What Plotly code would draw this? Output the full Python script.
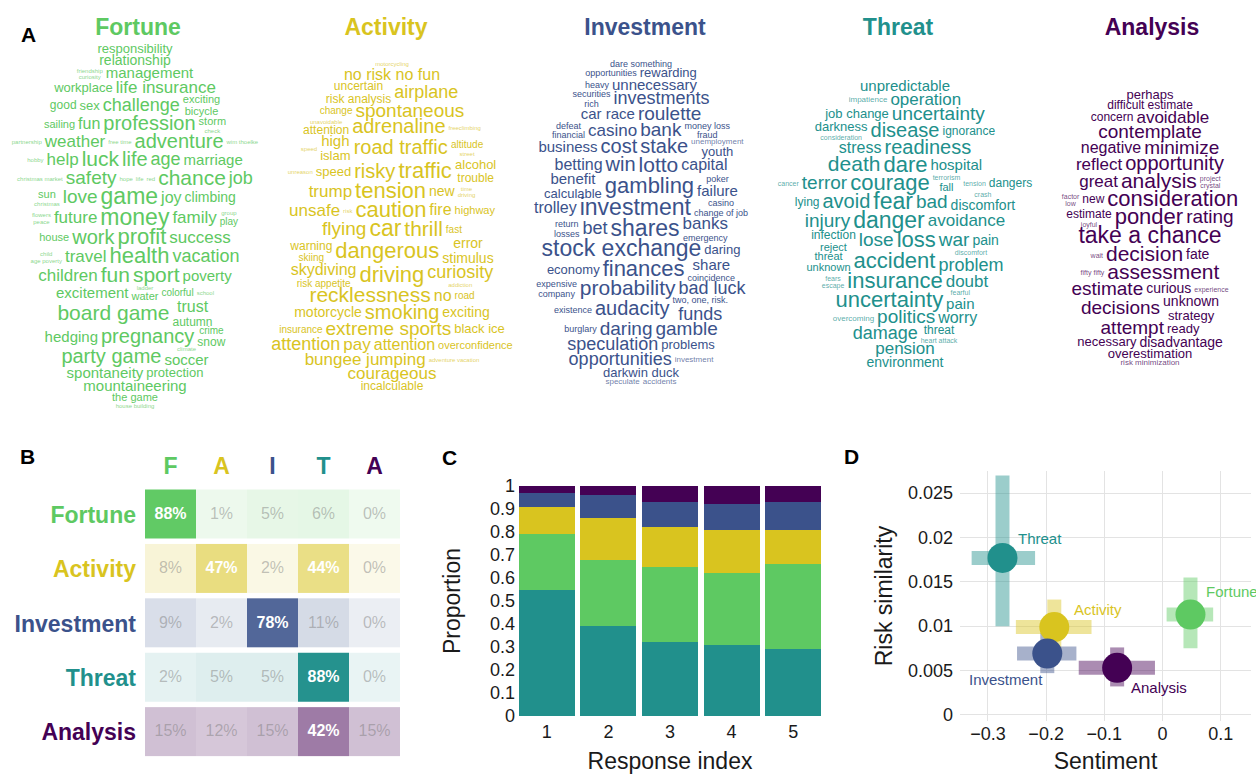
import plotly.graph_objects as go

W, H = 1256, 774
FONT = "Liberation Sans, Arial, sans-serif"

# ---------------- data ----------------
CATS = ["Fortune", "Activity", "Investment", "Threat", "Analysis"]
INITIALS = ["F", "A", "I", "T", "A"]
COLORS = ["#5EC962", "#D9C41F", "#3B528B", "#21908C", "#440154"]

# Panel A: word clouds. Each row lists (word, weight); a nested list is a small vertical stack.
FORTUNE_WORDS = [
    [("responsibility", 13)],
    [("relationship", 14)],
    [[("friendship", 6), ("curiosity", 6)], ("management", 15)],
    [("workplace", 13), ("life insurance", 17)],
    [("good", 12), ("sex", 13), ("challenge", 18), [("exciting", 11), ("bicycle", 11)]],
    [("sailing", 11), ("fun", 16), ("profession", 20), [("storm", 11), ("check", 6)]],
    [("partnership", 6), ("weather", 17), ("free time", 6), ("adventure", 20), ("wim thoelke", 6)],
    [("hobby", 6), ("help", 17), ("luck", 21), ("life", 20), ("age", 18), ("marriage", 15)],
    [("christmas market", 6), ("safety", 19), ("hope", 6), ("life", 6), ("red", 6), ("chance", 21), ("job", 18)],
    [[("sun", 11), ("christmas", 6)], ("love", 19), ("game", 23), ("joy", 16), ("climbing", 14)],
    [[("flowers", 6), ("peace", 6)], ("future", 17), ("money", 23), ("family", 17), [("group", 6), ("play", 10)]],
    [("house", 11), ("work", 20), ("profit", 22), ("success", 17)],
    [[("child", 6), ("age poverty", 6)], ("travel", 17), ("health", 22), ("vacation", 18)],
    [("children", 17), ("fun", 21), ("sport", 21), ("poverty", 15)],
    [("excitement", 15), [("ladder", 6), ("water", 11)], ("colorful", 10), ("school", 6)],
    [("board game", 21), [("trust", 16), ("autumn", 12)]],
    [("hedging", 15), ("pregnancy", 20), [("crime", 10), ("snow", 12)]],
    [("party game", 20), [("climate", 6), ("soccer", 15)]],
    [("spontaneity", 15), ("protection", 13)],
    [("mountaineering", 15)],
    [("the game", 11)],
    [("house building", 6)],
]
ACTIVITY_WORDS = [
    [[("motorcycling", 6), ("no risk no fun", 16)]],
    [[("uncertain", 12), ("risk analysis", 12)], ("airplane", 18)],
    [("change", 10), ("spontaneous", 19)],
    [[("unavoidable", 6), ("attention", 12)], ("adrenaline", 20), ("freeclimbing", 6)],
    [("speed", 6), [("high", 15), ("islam", 13)], ("road traffic", 20), [("altitude", 10), ("street", 6)]],
    [("unreason", 6), ("speed", 13), ("risky", 20), ("traffic", 22), [("alcohol", 13), ("trouble", 12)]],
    [("trump", 17), ("tension", 22), ("new", 14), [("time", 6), ("driving", 6)]],
    [("unsafe", 17), ("risk", 6), ("caution", 22), ("fire", 16), ("highway", 11)],
    [("flying", 19), ("car", 23), ("thrill", 21), ("fast", 10)],
    [[("warning", 12), ("skiing", 10)], ("dangerous", 22), [("error", 14), ("stimulus", 14)]],
    [[("skydiving", 16), ("risk appetite", 10)], ("driving", 22), [("curiosity", 18), ("addiction", 6)]],
    [("recklessness", 21), ("no", 16), ("road", 10)],
    [("motorcycle", 14), ("smoking", 20), ("exciting", 14)],
    [("insurance", 10), ("extreme sports", 19), ("black ice", 13)],
    [("attention", 18), ("pay", 17), ("attention", 16), ("overconfidence", 11)],
    [("bungee jumping", 17), ("adventure vacation", 6)],
    [("courageous", 17)],
    [("incalculable", 12)],
]
INVESTMENT_WORDS = [
    [("dare something", 9)],
    [("opportunities", 9), ("rewarding", 13)],
    [("heavy", 9), ("unnecessary", 15)],
    [[("securities", 9), ("rich", 9)], ("investments", 18)],
    [("car race", 15), ("roulette", 19)],
    [[("defeat", 9), ("financial", 9)], ("casino", 17), ("bank", 19), [("money loss", 9), ("fraud", 9)]],
    [("business", 15), ("cost", 20), ("stake", 20), [("unemployment", 8), ("youth", 13)]],
    [("betting", 16), ("win", 20), ("lotto", 21), ("capital", 16)],
    [[("benefit", 15), ("calculable", 13)], ("gambling", 22), [("poker", 9), ("failure", 15)]],
    [("trolley", 16), ("investment", 23), [("casino", 9), ("change of job", 9)]],
    [[("return", 9), ("losses", 9)], ("bet", 18), ("shares", 23), [("banks", 17), ("emergency", 9)]],
    [("stock exchange", 23), ("daring", 13)],
    [("economy", 13), ("finances", 22), [("share", 15), ("coincidence", 9)]],
    [[("expensive", 9), ("company", 9)], ("probability", 21), ("bad luck", 18)],
    [("existence", 9), ("audacity", 20), [("two, one, risk.", 9), ("funds", 18)]],
    [("burglary", 9), ("daring", 19), ("gamble", 19)],
    [("speculation", 18), ("problems", 13)],
    [("opportunities", 18), ("investment", 8)],
    [("darkwin duck", 13)],
    [("speculate", 8), ("accidents", 8)],
]
THREAT_WORDS = [
    [("unpredictable", 15)],
    [("impatience", 8), ("operation", 17)],
    [("job change", 13), ("uncertainty", 19)],
    [[("darkness", 13), ("consideration", 7)], ("disease", 20), ("ignorance", 12)],
    [("stress", 16), ("readiness", 20)],
    [("death", 21), ("dare", 22), ("hospital", 15)],
    [("cancer", 7), ("terror", 19), ("courage", 22), [("terrorism", 7), ("fall", 11)], ("tension", 7), ("dangers", 12)],
    [("lying", 12), ("avoid", 20), ("fear", 23), ("bad", 19), [("crash", 7), ("discomfort", 14)]],
    [("injury", 19), ("danger", 23), ("avoidance", 17)],
    [[("infection", 12), ("reject", 11)], ("lose", 19), ("loss", 22), ("war", 19), ("pain", 14)],
    [[("threat", 11), ("unknown", 11)], ("accident", 22), [("discomfort", 7), ("problem", 18)]],
    [[("fears", 7), ("escape", 7)], ("insurance", 22), ("doubt", 17)],
    [("uncertainty", 22), [("fearful", 7), ("pain", 15)]],
    [("overcoming", 8), ("politics", 19), ("worry", 16)],
    [("damage", 18), [("threat", 12), ("heart attack", 7)]],
    [("pension", 17)],
    [("environment", 14)],
]
ANALYSIS_WORDS = [
    [("perhaps", 13)],
    [("difficult", 12), ("estimate", 12)],
    [("concern", 12), ("avoidable", 17)],
    [("contemplate", 19)],
    [("negative", 16), ("minimize", 19)],
    [("reflect", 17), ("opportunity", 20)],
    [("great", 17), ("analysis", 21), [("project", 7), ("crystal", 7)]],
    [[("factor", 7), ("low", 7)], ("new", 12), ("consideration", 22)],
    [[("estimate", 12), ("joyful", 7)], ("ponder", 22), ("rating", 19)],
    [("take a chance", 23)],
    [("wait", 7), ("decision", 21), ("fate", 14)],
    [("fifty fifty", 7), ("assessment", 21)],
    [("estimate", 19), ("curious", 14), ("experience", 7)],
    [("decisions", 19), [("unknown", 14), ("strategy", 13)]],
    [("attempt", 19), ("ready", 13)],
    [("necessary", 13), ("disadvantage", 14)],
    [("overestimation", 13)],
    [("risk minimization", 8)],
]
CLOUDS = [FORTUNE_WORDS, ACTIVITY_WORDS, INVESTMENT_WORDS, THREAT_WORDS, ANALYSIS_WORDS]

# Panel B: classification percentages (rows: category, cols: assigned category)
CONF = [
    [88, 1, 5, 6, 0],
    [8, 47, 2, 44, 0],
    [9, 2, 78, 11, 0],
    [2, 5, 5, 88, 0],
    [15, 12, 15, 42, 15],
]

# Panel C: proportions per response index
RESP_IDX = [1, 2, 3, 4, 5]
PROP_THREAT = [0.55, 0.39, 0.32, 0.31, 0.29]
PROP_FORTUNE = [0.24, 0.29, 0.33, 0.31, 0.37]
PROP_ACTIVITY = [0.12, 0.18, 0.17, 0.19, 0.15]
PROP_INVESTMENT = [0.06, 0.10, 0.11, 0.11, 0.12]
PROP_ANALYSIS = [0.03, 0.04, 0.07, 0.08, 0.07]

# Panel D: sentiment vs risk similarity (order of CATS)
SENT = [0.048, -0.186, -0.198, -0.275, -0.078]
SENT_LO = [0.007, -0.252, -0.250, -0.328, -0.144]
SENT_HI = [0.087, -0.122, -0.148, -0.219, -0.013]
RISK = [0.0113, 0.0099, 0.0069, 0.0177, 0.0053]
RISK_LO = [0.0075, 0.0068, 0.0047, 0.0100, 0.0032]
RISK_HI = [0.0155, 0.0130, 0.0092, 0.0270, 0.0076]

# ---------------- helpers ----------------
def fx(p):
    return p / W

def fy(p):
    return 1 - p / H

def hex2rgb(h):
    h = h.lstrip("#")
    return tuple(int(h[i:i + 2], 16) for i in (0, 2, 4))

def tint(h, a):
    r, g, b = hex2rgb(h)
    return "rgb(%d,%d,%d)" % (round(255 - (255 - r) * a), round(255 - (255 - g) * a), round(255 - (255 - b) * a))

def rgba(h, a):
    r, g, b = hex2rgb(h)
    return "rgba(%d,%d,%d,%.2f)" % (r, g, b, a)

def char_w(ch):
    if ch in "ijl":
        return 0.222
    if ch in "ft .,'":
        return 0.278
    if ch == "r":
        return 0.333
    if ch == "m":
        return 0.833
    if ch == "w":
        return 0.722
    if ch in "ckvxyzs":
        return 0.5
    return 0.556

def word_w(w, s):
    return sum(char_w(c) for c in w) * s

STACK_LH = 1.05

def item_dims(it):
    if isinstance(it, list):
        return max(word_w(w, s) for w, s in it), sum(s for _, s in it) * STACK_LH
    return word_w(it[0], it[1]), it[1]

def cloud_positions(rows, cx, top, bottom, gap=3):
    hs = [max(item_dims(it)[1] for it in r) for r in rows]
    acc = [0.0]
    for a, b in zip(hs[:-1], hs[1:]):
        acc.append(acc[-1] + 0.5 * (a + b))
    k = (bottom - top) / acc[-1]
    xs, ys, ws, ss = [], [], [], []
    for r, yy in zip(rows, acc):
        yc = top + yy * k
        dims = [item_dims(it) for it in r]
        tot = sum(d[0] for d in dims) + gap * (len(r) - 1)
        x0 = cx - tot / 2
        for it, (dw, dh) in zip(r, dims):
            xc = x0 + dw / 2
            if isinstance(it, list):
                y0 = yc - dh / 2
                for w, s in it:
                    xs.append(xc); ys.append(y0 + s * STACK_LH / 2); ws.append(w); ss.append(s)
                    y0 += s * STACK_LH
            else:
                xs.append(xc); ys.append(yc); ws.append(it[0]); ss.append(it[1])
            x0 += dw + gap
    return xs, ys, ws, ss

fig = go.Figure()

# ---------------- Panel A ----------------
CLOUD_CX = [135, 392, 641, 905, 1150]
CLOUD_TOP = [50, 73, 65, 87, 96]
CLOUD_BOT = [406, 387, 382, 363, 363]
TITLE_CX = [138, 386, 645, 898, 1152]
for i, rows in enumerate(CLOUDS):
    xs, ys, ws, ss = cloud_positions(rows, CLOUD_CX[i], CLOUD_TOP[i], CLOUD_BOT[i])
    cols = [rgba(COLORS[i], 0.75 if s <= 8 else 1.0) for s in ss]
    fig.add_trace(go.Scatter(x=xs, y=ys, text=ws, mode="text",
                             textfont=dict(size=ss, color=cols, family=FONT),
                             xaxis="x", yaxis="y", hoverinfo="skip", showlegend=False))
fig.add_trace(go.Scatter(x=TITLE_CX, y=[29] * 5, text=["<b>%s</b>" % c for c in CATS], mode="text",
                         textfont=dict(size=23, color=COLORS, family=FONT),
                         xaxis="x", yaxis="y", hoverinfo="skip", showlegend=False))

# ---------------- Panel B ----------------
for i, row in enumerate(CONF):
    c = COLORS[i]
    fig.add_trace(go.Heatmap(z=[[v / 100 for v in row]], x=list(range(5)), y=[i],
                             colorscale=[[0, tint(c, 0.1)], [1, c]], zmin=0, zmax=0.9,
                             showscale=False, ygap=5, xaxis="x2", yaxis="y2", hoverinfo="skip"))
hx, hy, ht = [], [], []
lx, ly, lt = [], [], []
for i, row in enumerate(CONF):
    for j, v in enumerate(row):
        if v >= 40:
            hx.append(j); hy.append(i); ht.append("<b>%d%%</b>" % v)
        else:
            lx.append(j); ly.append(i); lt.append("%d%%" % v)
fig.add_trace(go.Scatter(x=hx, y=hy, text=ht, mode="text", textfont=dict(size=16, color="white", family=FONT),
                         xaxis="x2", yaxis="y2", hoverinfo="skip", showlegend=False))
fig.add_trace(go.Scatter(x=lx, y=ly, text=lt, mode="text",
                         textfont=dict(size=16, color="rgba(120,120,120,0.45)", family=FONT),
                         xaxis="x2", yaxis="y2", hoverinfo="skip", showlegend=False))

# ---------------- Panel C ----------------
STACK = [("Threat", PROP_THREAT), ("Fortune", PROP_FORTUNE), ("Activity", PROP_ACTIVITY),
         ("Investment", PROP_INVESTMENT), ("Analysis", PROP_ANALYSIS)]
for name, vals in STACK:
    fig.add_trace(go.Bar(x=RESP_IDX, y=vals, marker=dict(color=COLORS[CATS.index(name)], line=dict(width=0)),
                         xaxis="x3", yaxis="y3", hoverinfo="skip", showlegend=False))

# ---------------- Panel D ----------------
for i, c in enumerate(CATS):
    fig.add_trace(go.Scatter(x=[SENT_LO[i], SENT_HI[i]], y=[RISK[i], RISK[i]], mode="lines",
                             line=dict(color=rgba(COLORS[i], 0.45), width=14),
                             xaxis="x4", yaxis="y4", hoverinfo="skip", showlegend=False))
    fig.add_trace(go.Scatter(x=[SENT[i], SENT[i]], y=[RISK_LO[i], RISK_HI[i]], mode="lines",
                             line=dict(color=rgba(COLORS[i], 0.45), width=14),
                             xaxis="x4", yaxis="y4", hoverinfo="skip", showlegend=False))
fig.add_trace(go.Scatter(x=SENT, y=RISK, mode="markers", marker=dict(size=30, color=COLORS, line=dict(width=0)),
                         xaxis="x4", yaxis="y4", hoverinfo="skip", showlegend=False))
LABEL_SHIFT = [(42, 23), (44, 18), (-41, -26), (38, 19), (42, -20)]
annotations = []
for i, c in enumerate(CATS):
    annotations.append(dict(x=SENT[i], y=RISK[i], xref="x4", yref="y4", text=c, showarrow=False,
                            xshift=LABEL_SHIFT[i][0], yshift=LABEL_SHIFT[i][1],
                            font=dict(size=15, color=COLORS[i], family=FONT)))

for letter, (px, py) in zip("ABCD", [(19, 21), (18, 456), (449, 457), (861, 456)]):
    annotations.append(dict(x=fx(px), y=fy(py), xref="paper", yref="paper", text="<b>%s</b>" % letter,
                            showarrow=False, font=dict(size=21, color="black", family=FONT)))

hidden = dict(visible=False, fixedrange=True, automargin=False)
common = dict(zeroline=False, showline=False, ticks="", automargin=False, fixedrange=True)
fig.update_layout(
    template="none",
    width=W, height=H, margin=dict(l=0, r=0, t=0, b=0, pad=0), autosize=False,
    paper_bgcolor="white", plot_bgcolor="rgba(0,0,0,0)",
    font=dict(family=FONT, color="#1a1a1a"),
    barmode="stack", bargap=0.09, showlegend=False,
    annotations=annotations,
    xaxis=dict(domain=[0, 1], range=[0, W], anchor="y", **hidden),
    yaxis=dict(domain=[0, 1], range=[H, 0], anchor="x", **hidden),
    xaxis2=dict(domain=[fx(145), fx(400)], range=[-0.5, 4.5], anchor="y2", side="top",
                tickvals=list(range(5)),
                ticktext=['<span style="color:%s"><b>%s</b></span>' % (c, t) for c, t in zip(COLORS, INITIALS)],
                tickfont=dict(size=23), showgrid=False, ticklabelstandoff=8, **common),
    yaxis2=dict(domain=[fy(759.5), fy(487.5)], range=[4.5, -0.5], anchor="x2",
                tickvals=list(range(5)),
                ticktext=['<span style="color:%s"><b>%s</b></span>' % (c, t) for c, t in zip(COLORS, CATS)],
                tickfont=dict(size=23), showgrid=False, ticklabelstandoff=8, **common),
    xaxis3=dict(domain=[fx(516), fx(824)], range=[0.5, 5.5], anchor="y3", tickvals=RESP_IDX,
                tickfont=dict(size=18), showgrid=False, ticklabelstandoff=3,
                title=dict(text="Response index", font=dict(size=23), standoff=12), **common),
    yaxis3=dict(domain=[fy(716), fy(486)], range=[0, 1], anchor="x3", dtick=0.1, tick0=0,
                tickfont=dict(size=18), showgrid=False,
                title=dict(text="Proportion", font=dict(size=23), standoff=22), **common),
    xaxis4=dict(domain=[fx(960), fx(1251)], range=[-0.348, 0.152], anchor="y4",
                tickvals=[-0.3, -0.2, -0.1, 0, 0.1], tickfont=dict(size=18),
                showgrid=True, gridcolor="#e3e3e3", gridwidth=1,
                title=dict(text="Sentiment", font=dict(size=23), standoff=11), **common),
    yaxis4=dict(domain=[fy(721), fy(471)], range=[-0.0007, 0.0275], anchor="x4", dtick=0.005, tick0=0,
                tickfont=dict(size=18), showgrid=True, gridcolor="#e3e3e3", gridwidth=1,
                ticklabelstandoff=6,
                title=dict(text="Risk similarity", font=dict(size=23), standoff=8), **common),
)

fig.write_html("out.html", config={"displayModeBar": False, "staticPlot": True},
               post_script="document.body.style.margin='0';document.body.style.overflow='hidden';")
